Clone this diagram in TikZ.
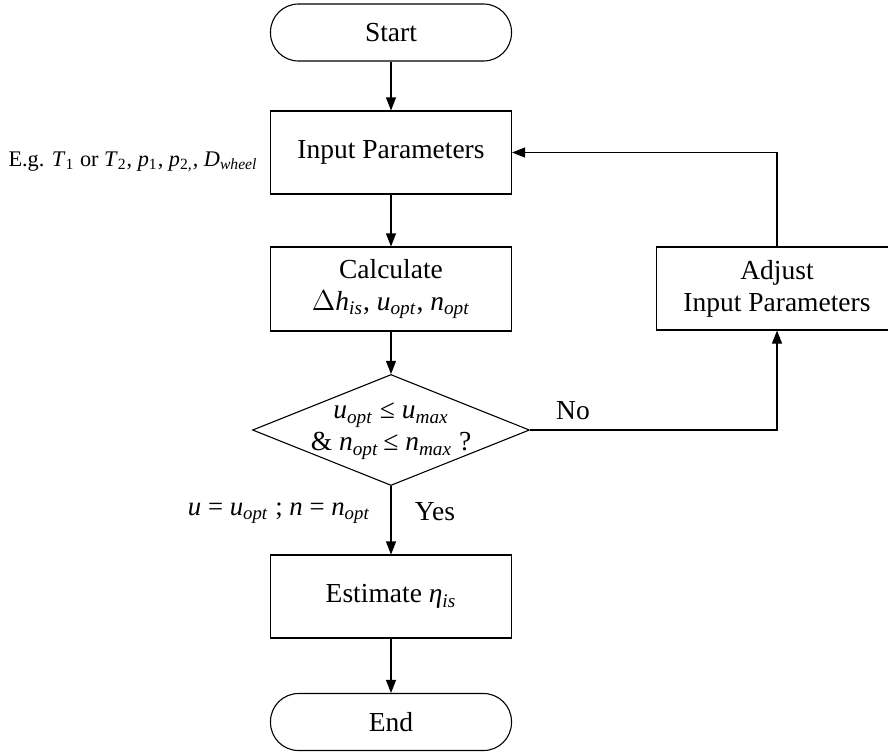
\documentclass[tikz,border=0pt]{standalone}
\usepackage{fontspec}
\setmainfont{Liberation Serif}
\usetikzlibrary{shapes.geometric,arrows.meta}
\newcommand{\ivar}[2]{\textit{#1}\textsubscript{\textit{#2}}}
\newcommand{\mainfnt}{\fontsize{13.75pt}{16pt}\selectfont}
\newcommand{\smallfnt}{\fontsize{11.15pt}{14pt}\selectfont}
\newcommand{\midfnt}{\fontsize{13.4pt}{15pt}\selectfont}
\begin{document}
\begin{tikzpicture}[x=0.5pt,y=-0.5pt,
  line/.style={line width=0.55pt},
  box/.style={draw, line, rectangle, minimum width=120.5pt, minimum height=41.5pt, inner sep=0pt, align=center, font=\mainfnt},
  term/.style={box, rounded corners=14pt, minimum height=28.5pt},
  dia/.style={draw, line, diamond, minimum width=138.5pt, minimum height=55.5pt, inner sep=0pt},
  arr/.style={line, -{Triangle[length=6.5pt,width=5pt]}},
  lbl/.style={font=\mainfnt, inner sep=0pt}]
\useasboundingbox (0,0) rectangle (888,751);
\clip (0,0) rectangle (888,751);
\node[term] (start) at (391,32.5) {Start};
\node[box] (inp) at (391,152.5) {Input Parameters};
\node[box, minimum height=42pt] (calc) at (391,289) {Calculate\\ $\Delta$\ivar{h}{is}, \ivar{u}{opt}, \ivar{n}{opt}};
\node[dia] (dec) at (391,430) {};
\node[font=\mainfnt, align=center, inner sep=0pt] (dectext) at (391,431) {\fontsize{13.75pt}{11.5pt}\selectfont \ivar{u}{opt} ≤ \ivar{u}{max}\\ \& \ivar{n}{opt}\,≤ \ivar{n}{max} ?};
\node[box] (est) at (391,596.5) {Estimate \ivar{η}{is}};
\node[term] (stop) at (391,722) {End};
\node[box] (adj) at (777,288.5) {Adjust\\ Input Parameters};
\draw[arr] (start) -- (inp);
\draw[arr] (inp) -- (calc);
\draw[arr] (calc) -- (dec);
\draw[arr] (dec) -- (est);
\draw[arr] (est) -- (stop);
\draw[arr] (dec.east) -| (adj.south);
\draw[arr] (adj.north) |- (inp.east);
\node[lbl] (no) at (573,411) {No};
\node[lbl] (yes) at (435,512) {Yes};
\node[lbl, font=\midfnt] (ulab) at (279,513) {\textit{u} = \ivar{u}{opt} ; \textit{n} = \ivar{n}{opt}};
\node[lbl, font=\smallfnt, anchor=base] (eg) at (133,166) {E.g. \textit{T}\textsubscript{1} or \textit{T}\textsubscript{2}, \textit{p}\textsubscript{1}, \textit{p}\textsubscript{2,}, \ivar{D}{wheel}};
\end{tikzpicture}
\end{document}
